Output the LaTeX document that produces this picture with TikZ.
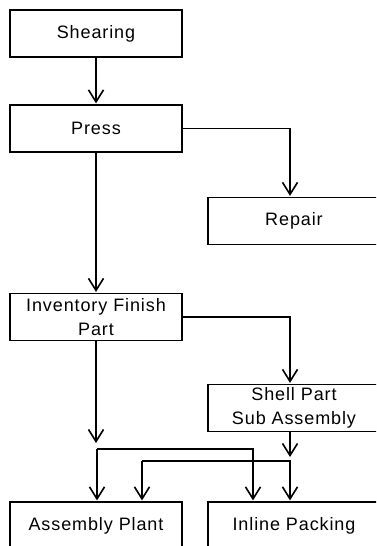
\documentclass[tikz,border=0pt]{standalone}
\usepackage{fontspec}
\setmainfont{Liberation Sans}
\newfontfamily\boxfont{Liberation Sans}[LetterSpace=5]
\usetikzlibrary{arrows.meta,positioning}

\begin{document}
\begin{tikzpicture}[x=1pt,y=-1pt,
    box/.style={draw,line width=1.2pt,minimum width=172pt,minimum height=47pt,align=center,inner sep=2pt,font=\boxfont\fontsize{18}{24}\selectfont},
    flow/.style={line width=1.6pt,shorten >=1pt,-{Straight Barb[length=12pt,width=15pt,line width=1.6pt]}},
    link/.style={line width=1.6pt}]
    \useasboundingbox (0,0) rectangle (376,546);
    \clip (0,0) rectangle (376,546);
    \node[box] (shear) at (96,33.5) {Shearing};
    \node[box] (press) at (96,128.5) {Press};
    \node[box] (repair) at (294,221) {Repair};
    \node[box] (inv) at (96,317) {Inventory Finish\\Part};
    \node[box] (shell) at (294,408) {Shell Part\\Sub Assembly};
    \node[box,minimum height=48pt] (asm) at (96,526) {Assembly Plant};
    \node[box,minimum height=48pt] (inline) at (294,526) {Inline Packing};
    \coordinate (invend) at (96,444);
    \coordinate (shellend) at (290,458);
    \coordinate (busA) at (97,449);
    \coordinate (busB) at (142,461);
    \draw[flow] (shear) -- (press);
    \draw[flow] (press.east) -| ([xshift=-4pt]repair.north);
    \draw[flow] (press) -- (inv);
    \draw[flow] (inv.east) -| ([xshift=-4pt]shell.north);
    \draw[flow] (inv) -- (invend);
    \draw[flow] ([xshift=-4pt]shell.south) -- (shellend);
    % distribution lines
    \draw[flow] (busA) -- (busA |- asm.north);
    \draw[flow] (busA) -| ([xshift=-41pt]inline.north);
    \draw[flow] (busB) -- (busB |- asm.north);
    \draw[flow] (busB) -| ([xshift=-4pt]inline.north);
\end{tikzpicture}
\end{document}
